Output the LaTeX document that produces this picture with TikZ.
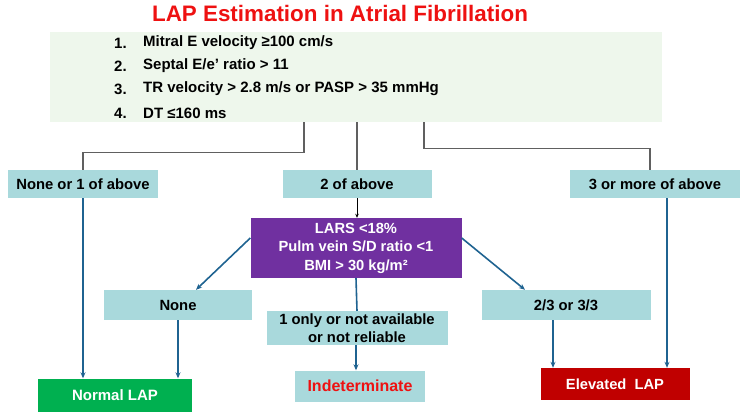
\documentclass[tikz,border=0pt]{standalone}
\usepackage{fontspec}
\setmainfont{Liberation Sans}
\usetikzlibrary{arrows.meta}
\definecolor{listbg}{HTML}{EEF7EC}
\definecolor{tealbox}{HTML}{A9D9DC}
\definecolor{purplebox}{HTML}{7030A0}
\definecolor{greenbox}{HTML}{00B050}
\definecolor{redbox}{HTML}{C00000}
\definecolor{titlered}{HTML}{EE1111}
\definecolor{arrowblue}{HTML}{1F6391}
\definecolor{conngray}{HTML}{606060}
\tikzset{
  tbox/.style={fill=tealbox, inner sep=0pt, align=center, font=\fontsize{14.8}{18}\selectfont\bfseries},
  conn/.style={draw=conngray, line width=1.2pt},
  barrow/.style={draw=arrowblue, line width=1.6pt, -{Stealth[length=6pt,width=5pt]}},
  listtxt/.style={anchor=west, inner sep=0pt, font=\fontsize{15}{18}\selectfont\bfseries}
}
\begin{document}
\begin{tikzpicture}[x=1pt,y=-1pt]
\useasboundingbox (0,0) rectangle (745,417);
% title
\node[font=\fontsize{22.4}{26}\selectfont\bfseries, text=titlered] (title) at (340,13) {LAP Estimation in Atrial Fibrillation};
% criteria box
\node[fill=listbg, minimum width=612pt, minimum height=90pt, inner sep=0pt] (crit) at (356,77) {};
\node[listtxt] (n1) at (114,43) {1.};
\node[listtxt] (t1) at (143,43) {Mitral E velocity ≥100 cm/s};
\node[listtxt] (n2) at (114,66) {2.};
\node[listtxt] (t2) at (143,66) {Septal E/e’ ratio > 11};
\node[listtxt] (n3) at (114,89) {3.};
\node[listtxt] (t3) at (143,89) {TR velocity > 2.8 m/s or PASP > 35 mmHg};
\node[listtxt] (n4) at (114,113) {4.};
\node[listtxt] (t4) at (143,113) {DT ≤160 ms};
% first level
\node[tbox, minimum width=150pt, minimum height=28pt] (none1) at (83,184) {None or 1 of above};
\node[tbox, minimum width=149pt, minimum height=28pt] (two) at (357,184) {2 of above};
\node[tbox, minimum width=170pt, minimum height=28pt] (three) at (655,184) {3 or more of above};
\draw[conn] ([xshift=-52pt]crit.south) -- ++(0,30) -| (none1.north);
\draw[conn] (crit.south -| two.north) -- (two.north);
\draw[conn] ([xshift=68pt]crit.south) -- ++(0,26) -| ([xshift=-5pt]three.north);
% purple
\node[fill=purplebox, text=white, minimum width=211pt, minimum height=60pt, inner sep=0pt, align=center, font=\fontsize{14.7}{18.5}\selectfont\bfseries] (lars) at (356,248) {LARS <18\%\\Pulm vein S/D ratio <1\\BMI > 30 kg/m²};
\draw[black, line width=0.8pt, -{Stealth[length=4pt,width=3.5pt]}] (two.south) -- (two.south |- lars.north);
% second level
\node[tbox, minimum width=148pt, minimum height=30pt] (none) at (178,305) {None};
\node[tbox, minimum width=181pt, minimum height=34pt, font=\fontsize{14.8}{18}\selectfont\bfseries] (oneonly) at (357,328) {1 only or not available\\or not reliable};
\node[tbox, minimum width=169pt, minimum height=30pt] (twothree) at (566,305) {2/3 or 3/3};
% outcomes
\node[fill=greenbox, text=white, minimum width=154pt, minimum height=33pt, inner sep=0pt, font=\fontsize{15}{18}\selectfont\bfseries] (normal) at (115,395) {Normal LAP};
\node[tbox, text=titlered, minimum width=130pt, minimum height=31pt, font=\fontsize{16}{18}\selectfont\bfseries] (indet) at (360,386) {Indeterminate};
\node[fill=redbox, text=white, minimum width=149pt, minimum height=32pt, inner sep=0pt, font=\fontsize{14.7}{18}\selectfont\bfseries] (elev) at (615,384) {Elevated\ \ LAP};
% arrows
\draw[barrow] (none1.south) -- (none1.south |- normal.north);
\draw[barrow] (none.south) -- (none.south |- normal.north);
\draw[barrow] ([yshift=10pt]lars.west) -- ([xshift=18pt]none.north);
\draw[barrow] ([yshift=10pt]lars.east) -- ([xshift=-41pt]twothree.north);
\draw[draw=arrowblue, line width=1.6pt] (lars.south) -- (oneonly.north);
\draw[barrow] (oneonly.south -| lars.south) -- (lars.south |- indet.north);
\draw[barrow] ([xshift=-13pt]twothree.south) -- ([xshift=-13pt]twothree.south |- elev.north);
\draw[barrow] ([xshift=12pt]three.south) -- ([xshift=12pt]three.south |- elev.north);
\end{tikzpicture}
\end{document}
